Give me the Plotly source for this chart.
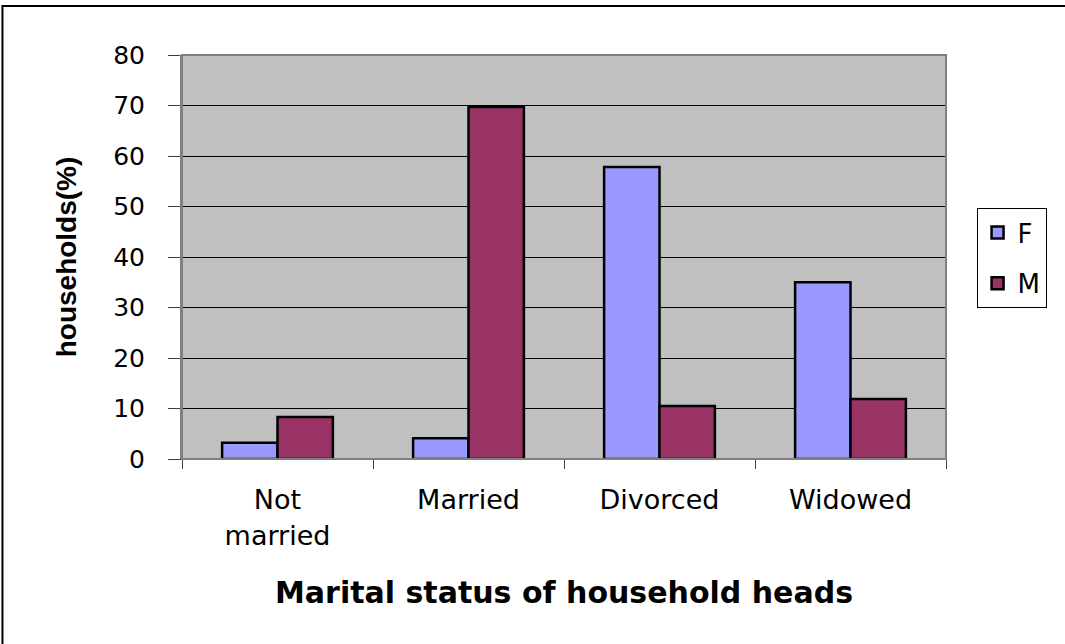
import plotly.graph_objects as go

# data
categories = ["Not<br>married", "Married", "Divorced", "Widowed"]
female = [3.2, 4.1, 57.8, 35.0]
male = [8.3, 69.7, 10.5, 11.9]

WIDE = "DejaVu Sans, sans-serif"
ARIAL = "Liberation Sans, Arial, sans-serif"

fig = go.Figure()
fig.add_trace(go.Bar(x=categories, y=female, name="F", legendgroup="F",
                     marker=dict(color="#9999FF", line=dict(color="black", width=2.5))))
fig.add_trace(go.Bar(x=categories, y=male, name="M", legendgroup="M",
                     marker=dict(color="#993366", line=dict(color="black", width=2.5))))

fig.update_layout(
    width=1065, height=644,
    barmode="group", bargap=0.42, bargroupgap=0,
    paper_bgcolor="white", plot_bgcolor="#C0C0C0",
    font=dict(family=WIDE, color="black", size=26),
    margin=dict(l=182, r=119, t=55, b=185, autoexpand=False),
    legend=dict(x=1.04, y=0.621, xanchor="left", yanchor="top",
                bordercolor="black", borderwidth=1, bgcolor="white",
                font=dict(size=26, family=WIDE), traceorder="grouped",
                tracegroupgap=14),
    showlegend=True,
)

fig.update_yaxes(range=[0, 80], dtick=10, showgrid=True, gridcolor="black", gridwidth=1,
                 ticks="outside", ticklen=12, tickcolor="#404040", ticklabelstandoff=18,
                 showline=True, linecolor="#808080", linewidth=2, zeroline=False,
                 tickfont=dict(size=25, family=WIDE),
                 title=dict(text="<b>households(%)</b>", font=dict(size=28, family=ARIAL),
                            standoff=28))
fig.update_xaxes(ticks="outside", tickson="boundaries", ticklen=9, tickcolor="#404040",
                 showline=True, linecolor="#404040", linewidth=1, mirror=False,
                 tickfont=dict(size=27, family=WIDE), ticklabelstandoff=17,
                 title=dict(text="<b>Marital status of household heads</b>",
                            font=dict(size=30, family=WIDE), standoff=32))

# plot area border in grey
fig.add_shape(type="rect", xref="paper", yref="paper", x0=0, x1=1, y0=0, y1=1,
              line=dict(color="#808080", width=2), layer="above")
# outer chart border, only left and top edges fall inside the picture
fig.add_shape(type="rect", xref="paper", yref="paper", x0=-0.235, x1=1.5, y0=-1, y1=1.121,
              line=dict(color="black", width=2))

fig.write_html("out.html", config={"displayModeBar": False},
               post_script="document.body.style.margin='0';")
